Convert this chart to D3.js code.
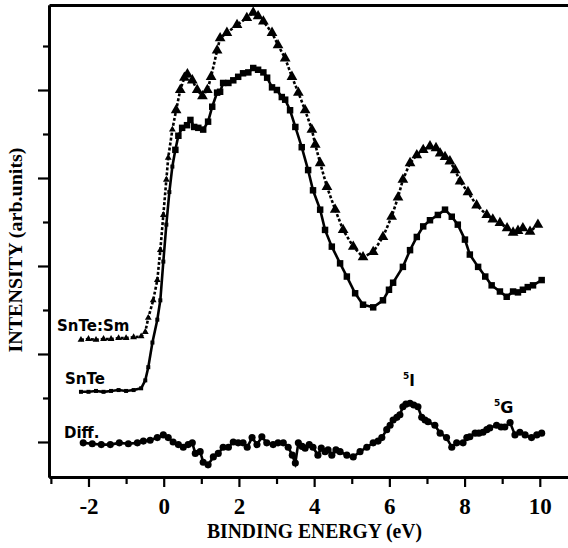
<!DOCTYPE html>
<html><head><meta charset="utf-8">
<script src="https://cdn.jsdelivr.net/npm/d3@7"></script>
<style>
html,body{margin:0;padding:0;background:#fff;}
svg{display:block;}
</style></head>
<body>
<svg id="chart" width="568" height="548"></svg>
<script>
// ---- data (binding energy eV, intensity arb. units) ----
const snteSmX = [-2.2,-2.0,-1.8,-1.6,-1.4,-1.2,-1.0,-0.8,-0.6,-0.49,-0.41,-0.28,-0.17,-0.09,-0.01,0.07,0.12,0.23,0.33,0.44,0.55,0.63,0.76,0.89,1.03,1.16,1.26,1.42,1.50,1.68,1.95,2.21,2.38,2.51,2.65,2.88,3.04,3.23,3.41,3.58,3.76,3.94,4.03,4.16,4.34,4.56,4.77,5.04,5.30,5.57,5.83,6.06,6.23,6.36,6.55,6.73,6.90,7.08,7.24,7.35,7.48,7.61,7.75,7.88,8.09,8.32,8.59,8.75,8.94,9.13,9.29,9.42,9.55,9.74,9.95];
const snteSmY = [11.6,11.7,11.6,11.7,11.7,11.8,11.8,11.9,12.0,12.5,14.1,16.1,18.4,21.8,25.8,29.8,32.3,35.5,37.7,40.0,41.4,41.8,41.1,40.0,39.3,40.0,41.5,44.5,45.9,46.5,47.4,48.2,48.8,48.4,47.8,46.5,45.1,43.6,41.5,39.7,37.7,35.5,33.8,31.7,29.0,26.4,24.1,22.2,21.0,21.6,23.3,25.6,27.8,29.8,31.7,32.6,33.2,33.6,33.4,32.8,32.4,31.9,30.9,29.6,28.4,26.9,25.8,25.3,24.9,24.3,23.8,24.0,24.3,23.9,24.7];

const snteX = [-2.2,-2.0,-1.8,-1.6,-1.4,-1.2,-1.0,-0.8,-0.6,-0.49,-0.41,-0.30,-0.17,-0.09,-0.01,0.07,0.15,0.23,0.31,0.39,0.49,0.62,0.71,0.81,0.92,1.05,1.18,1.29,1.42,1.50,1.58,1.72,1.85,1.98,2.11,2.25,2.38,2.51,2.65,2.75,2.88,3.01,3.14,3.23,3.36,3.50,3.67,3.84,3.97,4.16,4.29,4.47,4.69,4.87,5.09,5.30,5.57,5.83,5.99,6.10,6.36,6.55,6.73,6.90,7.08,7.29,7.48,7.66,7.82,8.01,8.14,8.36,8.55,8.72,8.94,9.12,9.29,9.42,9.55,9.68,9.82,10.05];
const snteY = [5.7,5.7,5.8,5.7,5.8,5.9,5.8,5.9,6.1,7.0,8.5,11.3,13.9,16.1,20.5,24.7,28.4,31.3,33.2,34.8,35.7,36.0,36.6,35.8,35.7,35.5,36.4,38.1,39.7,39.8,40.8,40.8,41.1,41.5,41.9,42.0,42.5,42.3,42.0,41.4,40.3,40.0,39.2,38.9,37.7,35.8,33.5,30.9,28.6,26.4,24.1,22.2,20.3,18.8,16.9,15.6,15.3,16.1,17.3,18.1,19.9,21.8,23.3,24.5,25.2,25.8,26.4,25.6,24.7,23.0,21.3,19.9,18.8,17.8,17.1,16.5,17.1,17.0,17.3,17.6,17.8,18.4];

const diffX = [-2.14,-1.90,-1.66,-1.42,-1.18,-0.94,-0.70,-0.54,-0.36,-0.17,-0.01,0.12,0.25,0.39,0.52,0.65,0.76,0.84,0.97,1.05,1.18,1.32,1.45,1.58,1.72,1.85,1.98,2.11,2.22,2.35,2.48,2.61,2.74,2.91,3.04,3.18,3.31,3.42,3.50,3.58,3.68,3.76,3.87,3.97,4.10,4.19,4.29,4.37,4.47,4.58,4.69,4.87,5.04,5.22,5.40,5.57,5.70,5.80,5.93,6.02,6.10,6.20,6.28,6.36,6.44,6.55,6.65,6.76,6.86,6.95,7.03,7.21,7.35,7.52,7.66,7.79,7.96,8.06,8.14,8.28,8.38,8.49,8.59,8.67,8.85,8.97,9.07,9.21,9.34,9.47,9.61,9.78,9.92,10.05];
const diffY = [-0.1,-0.2,-0.3,-0.3,-0.1,-0.2,-0.1,0.1,0.2,0.5,0.8,0.5,0.0,-0.3,-0.6,-0.3,-0.1,-1.3,-1.1,-2.3,-2.6,-1.7,-1.3,-0.6,-0.6,0.0,-0.1,-0.1,-0.6,0.5,-0.3,0.6,-0.1,-0.3,-0.1,-0.1,-0.6,-1.5,-2.4,-0.1,-0.5,-0.7,-0.3,-0.6,-1.5,-0.7,-1.1,-0.9,-1.5,-0.9,-1.1,-1.5,-1.7,-1.1,-0.6,-0.1,0.1,0.5,1.4,1.9,2.5,2.8,3.1,4.0,4.3,4.4,4.2,4.0,2.8,2.5,2.3,1.9,1.0,0.5,-0.6,-0.1,-0.1,0.5,0.6,1.0,1.0,1.1,1.4,1.6,1.9,1.7,1.7,2.2,0.8,1.1,0.8,0.5,0.8,1.0];

const xMajorTicks = [-2,0,2,4,6,8,10];
const xMinorTicks = [-3,-1,1,3,5,7,9];
const yMajorTicks = [0,10,20,30,40];
const yMinorTicks = [5,15,25,35,45];

const seriesLabels = ["SnTe:Sm","SnTe","Diff."];
const xTitle = "BINDING ENERGY (eV)";
const yTitle = "INTENSITY (arb.units)";

// ---- layout ----
const svg = d3.select("#chart");
const L = 49, R = 568, T = 5, B = 477;
const x = d3.scaleLinear().domain([-3.05, 10.75]).range([L, R]);
const y = d3.scaleLinear().domain([-3.98, 49.66]).range([B, T]);

const axW = 2.8;
function styleAxis(g){
  g.selectAll(".domain").attr("stroke","#000").attr("stroke-width",axW);
  g.selectAll(".tick line").attr("stroke","#000").attr("stroke-width",2.2);
}
// bottom axis
svg.append("g").attr("transform",`translate(0,${B})`)
  .call(d3.axisBottom(x).tickValues(xMinorTicks).tickSize(7).tickFormat("").tickSizeOuter(0))
  .call(styleAxis);
const xg = svg.append("g").attr("transform",`translate(0,${B})`)
  .call(d3.axisBottom(x).tickValues(xMajorTicks).tickSize(10).tickPadding(11).tickSizeOuter(0)
    .tickFormat(d => d < 0 ? "-" + Math.abs(d) : d))
  .call(styleAxis);
xg.selectAll(".tick text").attr("font-family","'Liberation Serif','Times New Roman',serif")
  .attr("font-weight","bold").attr("font-size",23).attr("fill","#000");
// left axis
svg.append("g").attr("transform",`translate(${L},0)`)
  .call(d3.axisLeft(y).tickValues(yMinorTicks).tickSize(6).tickFormat("").tickSizeOuter(0))
  .call(styleAxis);
svg.append("g").attr("transform",`translate(${L},0)`)
  .call(d3.axisLeft(y).tickValues(yMajorTicks).tickSize(11).tickFormat("").tickSizeOuter(0))
  .call(styleAxis);
// top border
svg.append("g").attr("transform",`translate(0,${T})`)
  .call(d3.axisTop(x).tickValues([]).tickSizeOuter(0))
  .call(styleAxis);

// axis titles
svg.append("text").attr("x",(L+R)/2+6).attr("y",538).attr("text-anchor","middle")
  .attr("font-family","'Liberation Serif','Times New Roman',serif").attr("font-weight","bold")
  .attr("font-size",21).attr("textLength",215).attr("lengthAdjust","spacingAndGlyphs").text(xTitle);
svg.append("text").attr("transform","translate(22,250) rotate(-90)").attr("text-anchor","middle")
  .attr("font-family","'Liberation Serif','Times New Roman',serif").attr("font-weight","bold")
  .attr("font-size",19).attr("textLength",205).attr("lengthAdjust","spacingAndGlyphs").text(yTitle);

// ---- series ----
function pts(xs, ys){ return xs.map((v,i)=>[v, ys[i]]); }
const line = d3.line().x(d=>x(d[0])).y(d=>y(d[1]));
const sSm = pts(snteSmX, snteSmY), sTe = pts(snteX, snteY), sDiff = pts(diffX, diffY);

const plot = svg.append("g");
plot.append("path").datum(sSm).attr("d",line).attr("fill","none").attr("stroke","#000")
  .attr("stroke-width",2.6).attr("stroke-dasharray","3,2");
plot.append("path").datum(sTe).attr("d",line).attr("fill","none").attr("stroke","#000").attr("stroke-width",2.6);
plot.append("path").datum(sDiff).attr("d",line).attr("fill","none").attr("stroke","#000").attr("stroke-width",2.6);

function markers(data, type, size){
  plot.append("g").selectAll("path").data(data).join("path")
    .attr("transform",d=>`translate(${x(d[0])},${y(d[1])})`)
    .attr("d", d3.symbol().type(type).size(size)).attr("fill","#000");
}
markers(sSm.filter(d=>d[0]>0.3), d3.symbolTriangle, 50);
markers(sSm.filter(d=>d[0]<=0.3), d3.symbolTriangle, 20);
markers(sTe.filter(d=>d[0]>0.3), d3.symbolSquare, 42);
markers(sTe.filter(d=>d[0]<=0.3), d3.symbolSquare, 16);
markers(sDiff, d3.symbolCircle, 40);

// ---- series labels ----
const lblFont = "'DejaVu Sans',Verdana,sans-serif";
const lbl = [[57,331],[65,384],[64,438]];
seriesLabels.forEach((t,i)=>{
  svg.append("text").attr("x",lbl[i][0]).attr("y",lbl[i][1]).attr("font-family",lblFont)
    .attr("font-weight","bold").attr("font-size",15).attr("fill","#000").text(t);
});
// peak labels
const pk = svg.append("g").attr("font-family",lblFont).attr("font-weight","bold").attr("fill","#000");
const t1 = pk.append("text").attr("x",403).attr("y",386).attr("font-size",15);
t1.append("tspan").attr("font-size",9).attr("dy",-7).text("5");
t1.append("tspan").attr("dy",7).text("I");
const t2 = pk.append("text").attr("x",494).attr("y",413).attr("font-size",16);
t2.append("tspan").attr("font-size",9).attr("dy",-7).text("5");
t2.append("tspan").attr("dy",7).text("G");
</script>
</body></html>
